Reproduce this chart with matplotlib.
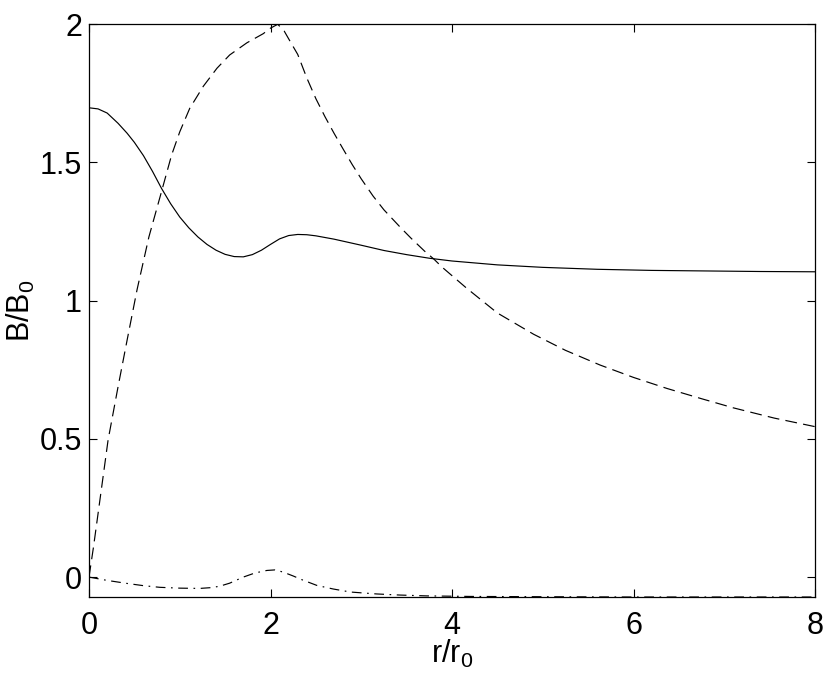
import matplotlib
matplotlib.use("Agg")
import matplotlib.pyplot as plt

plt.rcParams['font.family']=['Liberation Sans','DejaVu Sans']
plt.rcParams['mathtext.fontset']='custom'
plt.rcParams['mathtext.rm']='Liberation Sans'
plt.rcParams['mathtext.it']='Liberation Sans'
plt.rcParams['lines.scale_dashes']=False

# solid curve
r_solid=[0.0,0.1,0.2,0.32,0.42,0.5,0.6,0.7,0.8,0.9,1.0,1.1,1.2,1.3,1.4,1.5,1.6,1.7,1.8,1.9,2.0,2.1,2.2,2.3,2.4,2.5,2.7,3.0,3.25,3.5,3.75,4.0,4.5,5.0,5.6,6.2,6.8,7.4,8.0]
b_solid=[1.697,1.693,1.678,1.641,1.605,1.572,1.524,1.467,1.405,1.350,1.302,1.263,1.230,1.203,1.182,1.167,1.159,1.158,1.166,1.182,1.203,1.223,1.235,1.239,1.238,1.234,1.222,1.200,1.181,1.166,1.153,1.143,1.129,1.120,1.113,1.109,1.107,1.105,1.104]

# dashed curve
r_dash=[0.0,0.05,0.1,0.21,0.32,0.42,0.53,0.66,0.8,0.91,1.0,1.11,1.26,1.41,1.55,1.74,1.92,2.0,2.08,2.15,2.22,2.3,2.4,2.5,2.6,2.7,2.8,2.9,3.0,3.13,3.25,3.43,3.55,3.7,3.8,3.89,4.0,4.16,4.5,4.9,5.25,5.63,6.0,6.37,6.75,7.1,7.55,8.0]
b_dash=[0.0,0.11,0.23,0.495,0.688,0.857,1.04,1.23,1.395,1.526,1.610,1.695,1.775,1.840,1.888,1.932,1.965,1.985,1.999,1.975,1.935,1.89,1.805,1.73,1.665,1.605,1.548,1.492,1.44,1.378,1.328,1.265,1.225,1.178,1.150,1.121,1.09,1.045,0.955,0.878,0.82,0.767,0.722,0.682,0.645,0.612,0.575,0.544]

# dash-dot curve
r_dd=[0.0,0.2,0.42,0.6,0.78,1.0,1.22,1.35,1.44,1.55,1.7,1.83,1.96,2.05,2.14,2.25,2.35,2.51,2.69,2.88,3.17,3.43,3.72,4.2,5.0,6.0,8.0]
b_dd=[0.0,-0.012,-0.023,-0.031,-0.037,-0.040,-0.041,-0.038,-0.033,-0.022,0.0,0.015,0.024,0.026,0.018,0.004,-0.010,-0.030,-0.043,-0.054,-0.061,-0.065,-0.068,-0.070,-0.071,-0.072,-0.072]

xticks=[0,2,4,6,8]
yticks=[0,0.5,1,1.5,2]
ytick_labels=["0","0.5","1","1.5","2"]

fig=plt.figure(figsize=(8.3,6.77),dpi=100)
ax=fig.add_axes([89/830,1-597/677,(815-89)/830,(597-24)/677])

ax.plot(r_solid,b_solid,color="k",lw=0.85)
ax.plot(r_dash,b_dash,color="k",lw=0.85,dashes=(8.5,4.5))
ax.plot(r_dd,b_dd,color="k",lw=0.85,dashes=(7,4,1.2,4))

ax.set_xlim(0,8)
ax.set_ylim(-0.072,2)
ax.set_xticks(xticks)
ax.set_xticklabels([str(t) for t in xticks])
ax.set_yticks(yticks)
ax.set_yticklabels(ytick_labels)
ax.tick_params(direction="in",top=True,right=True,length=6,width=0.8,labelsize=22)
ax.tick_params(axis="x",pad=10)
ax.tick_params(axis="y",pad=5)
for s in ax.spines.values(): s.set_linewidth(0.9)

ax.set_xlabel(r"r/r$_{0}$",fontsize=22,labelpad=-2)
ax.set_ylabel(r"B/B$_{0}$",fontsize=22,labelpad=2)

fig.savefig("out.png",dpi=100)
